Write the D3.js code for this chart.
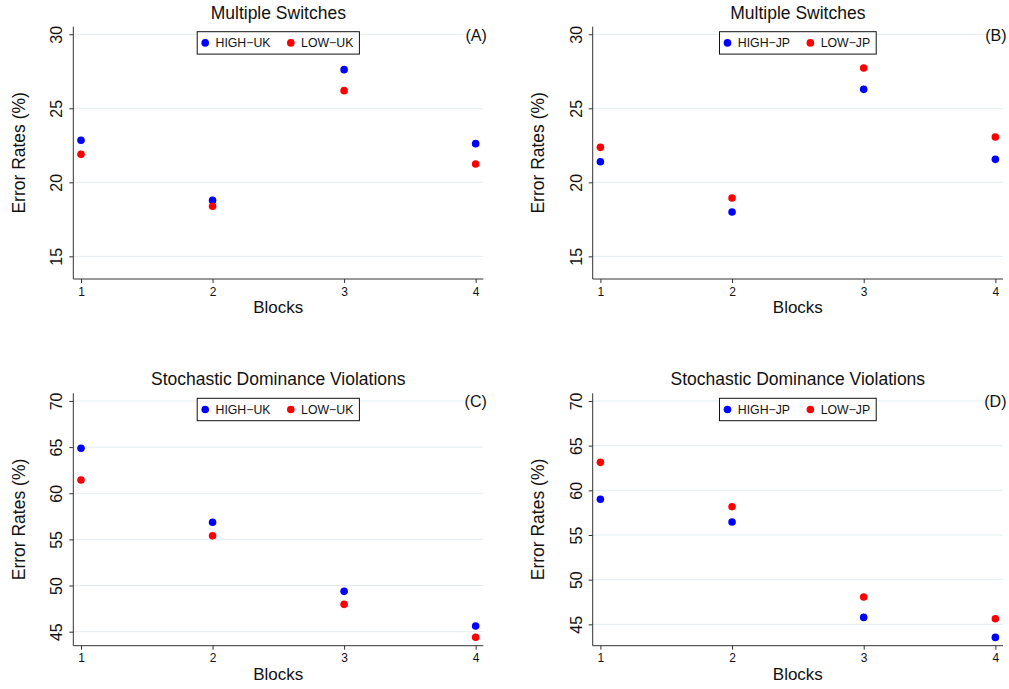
<!DOCTYPE html>
<html>
<head>
<meta charset="utf-8">
<script src="https://cdn.jsdelivr.net/npm/d3@7"></script>
<style>
  html, body { margin: 0; padding: 0; background: #fff; }
  svg { display: block; font-family: "Liberation Sans", Arial, Helvetica, sans-serif; }
</style>
</head>
<body>
<svg id="chart" width="1009" height="689"></svg>
<script>
// ---- data ----
const blocks = [1, 2, 3, 4];
const highUK_MS = [22.84, 18.78, 27.61, 22.61];
const lowUK_MS  = [21.89, 18.38, 26.19, 21.24];
const highJP_MS = [21.39, 18.00, 26.28, 21.55];
const lowJP_MS  = [22.36, 18.94, 27.72, 23.06];
const highUK_SD = [64.87, 56.85, 49.37, 45.61];
const lowUK_SD  = [61.44, 55.40, 47.96, 44.39];
const highJP_SD = [59.00, 56.46, 45.78, 43.54];
const lowJP_SD  = [63.13, 58.17, 48.06, 45.63];
const ticksMS = [15, 20, 25, 30];
const ticksSD = [45, 50, 55, 60, 65, 70];
const titles = ["Multiple Switches", "Multiple Switches", "Stochastic Dominance Violations", "Stochastic Dominance Violations"];
const panelLabels = ["(A)", "(B)", "(C)", "(D)"];
const seriesNames = [["HIGH\u2212UK", "LOW\u2212UK"], ["HIGH\u2212JP", "LOW\u2212JP"], ["HIGH\u2212UK", "LOW\u2212UK"], ["HIGH\u2212JP", "LOW\u2212JP"]];
const colors = ["#0000ff", "#ff0000"];

const panels = [
  { left: 73.3, right: 483.3, top: 26.7, bottom: 279, ydom: [13.47, 30.51], ticks: ticksMS, hi: highUK_MS, lo: lowUK_MS },
  { left: 592.7, right: 1003, top: 26.7, bottom: 279, ydom: [13.47, 30.51], ticks: ticksMS, hi: highJP_MS, lo: lowJP_MS },
  { left: 73.3, right: 483.3, top: 393.3, bottom: 645.7, ydom: [43.48, 70.83], ticks: ticksSD, hi: highUK_SD, lo: lowUK_SD },
  { left: 592.7, right: 1003, top: 393.3, bottom: 645.7, ydom: [42.61, 70.86], ticks: ticksSD, hi: highJP_SD, lo: lowJP_SD }
];

const svg = d3.select("#chart");

panels.forEach((p, i) => {
  const g = svg.append("g");
  const x = d3.scaleLinear().domain([0.9415, 4.058]).range([p.left, p.right]);
  const y = d3.scaleLinear().domain(p.ydom).range([p.bottom, p.top]);
  const cx = (p.left + p.right) / 2;

  // gridlines
  g.append("g").selectAll("line").data(p.ticks).join("line")
    .attr("x1", p.left).attr("x2", p.right)
    .attr("y1", d => y(d)).attr("y2", d => y(d))
    .attr("stroke", "#e3edf0").attr("stroke-width", 1);

  // y axis
  const yAxis = d3.axisLeft(y).tickValues(p.ticks).tickSize(4).tickPadding(0).tickSizeOuter(0);
  const ya = g.append("g").attr("transform", `translate(${p.left},0)`).call(yAxis);
  ya.select(".domain").attr("stroke", "#333").attr("d", `M0,${p.top}V${p.bottom}`);
  ya.selectAll(".tick line").attr("stroke", "#333");
  ya.selectAll(".tick text")
    .attr("x", null).attr("dy", null)
    .attr("transform", "translate(-11,0) rotate(-90)")
    .attr("text-anchor", "middle").attr("font-size", 16).attr("fill", "#111");

  // x axis
  const xAxis = d3.axisBottom(x).tickValues(blocks).tickFormat(d3.format("d")).tickSize(4).tickPadding(4).tickSizeOuter(0);
  const xa = g.append("g").attr("transform", `translate(0,${p.bottom})`).call(xAxis);
  xa.select(".domain").attr("stroke", "#333").attr("d", `M${p.left},0H${p.right}`);
  xa.selectAll(".tick line").attr("stroke", "#333");
  xa.selectAll(".tick text").attr("font-size", 12).attr("fill", "#111");

  // points
  [p.hi, p.lo].forEach((vals, k) => {
    g.append("g").selectAll("circle").data(vals).join("circle")
      .attr("cx", (d, j) => x(blocks[j])).attr("cy", d => y(d))
      .attr("r", 3.8).attr("fill", colors[k]);
  });

  // title
  g.append("text").attr("x", cx).attr("y", p.top - 8)
    .attr("text-anchor", "middle").attr("font-size", 17.5).attr("fill", "#111").text(titles[i]);

  // axis titles
  g.append("text").attr("x", cx).attr("y", p.bottom + 34)
    .attr("text-anchor", "middle").attr("font-size", 17).attr("fill", "#111").text("Blocks");
  g.append("text").attr("transform", `translate(${p.left - 48.5},${(p.top + p.bottom) / 2}) rotate(-90)`)
    .attr("text-anchor", "middle").attr("font-size", 17.5).attr("fill", "#111").text("Error Rates (%)");

  // panel label
  g.append("text").attr("x", p.right + 3.5).attr("y", p.top + 14)
    .attr("text-anchor", "end").attr("font-size", 16).attr("fill", "#111").text(panelLabels[i]);

  // legend
  const lg = g.append("g");
  const ly = p.top + 16.2;
  const box = lg.append("rect").attr("fill", "#fff").attr("stroke", "#111").attr("stroke-width", 1);
  const items = [];
  seriesNames[i].forEach((name, k) => {
    const c = lg.append("circle").attr("r", 3.8).attr("fill", colors[k]);
    const t = lg.append("text").attr("font-size", 12.3).attr("fill", "#111").text(name);
    items.push({ c, t });
  });
  const pad = 8, mgap = 10.3, igap = 20.3, rpad = 6;
  let cur = pad;
  items.forEach((it, k) => {
    it.c.attr("cx", cur).attr("cy", ly);
    cur += mgap;
    it.t.attr("x", cur).attr("y", ly + 4.4);
    cur += it.t.node().getComputedTextLength();
    if (k === 0) cur += igap;
  });
  const w = cur + rpad;
  const x0 = cx - w / 2;
  lg.attr("transform", `translate(${x0},0)`);
  box.attr("x", 0).attr("y", ly - 11.2).attr("width", w).attr("height", 22.4);
});
</script>
</body>
</html>
